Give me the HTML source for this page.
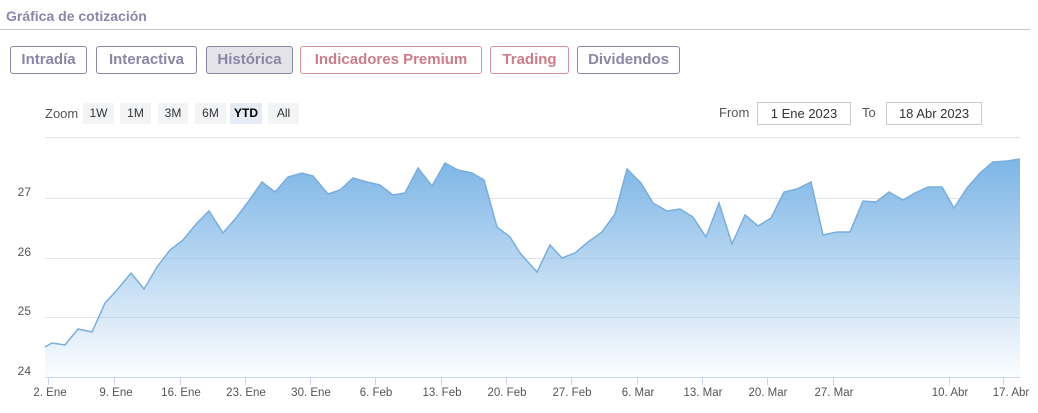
<!DOCTYPE html>
<html><head><meta charset="utf-8"><style>
body{margin:0;width:1038px;height:413px;background:#fff;font-family:"Liberation Sans",sans-serif;overflow:hidden;position:relative}
.t{position:absolute;left:6px;top:8px;font-size:14px;color:#8a86a6;font-weight:bold}
.hr{position:absolute;left:0;top:29px;width:1030px;height:1px;background:#c9c7d6}
.b{position:absolute;top:46px;height:26px;border:1px solid #8a86a6;border-radius:3px;font-size:15px;font-weight:bold;color:#8a86a6;text-align:center;line-height:26px;box-sizing:content-box}
.p{border-color:#d6949f;color:#cc7c8a}
.z{position:absolute;top:103px;height:21px;background:#f3f4f6;font-size:12px;color:#333;text-align:center;line-height:21px}
.lb{position:absolute;font-size:13px;color:#555}
.in{position:absolute;top:102px;height:21px;border:1px solid #ccc;font-size:13px;color:#333;text-align:center;line-height:21px}
</style></head><body>
<div class="t">Gráfica de cotización</div><div class="hr"></div>
<div class="b" style="left:10px;width:75px">Intradía</div>
<div class="b" style="left:96px;width:99px">Interactiva</div>
<div class="b" style="left:206px;width:85px;background:#e4e4e8">Histórica</div>
<div class="b p" style="left:300px;width:180px">Indicadores Premium</div>
<div class="b p" style="left:490px;width:77px">Trading</div>
<div class="b" style="left:577px;width:101px">Dividendos</div>
<div class="lb" style="left:45px;top:106px">Zoom</div>
<div class="z" style="left:83px;width:31px">1W</div>
<div class="z" style="left:120px;width:31px">1M</div>
<div class="z" style="left:158px;width:30px">3M</div>
<div class="z" style="left:195px;width:31px">6M</div>
<div class="z" style="left:230px;width:32px;background:#e6ebf5;font-weight:bold;color:#000">YTD</div>
<div class="z" style="left:268px;width:31px">All</div>
<div class="lb" style="left:719px;top:105px">From</div>
<div class="in" style="left:757px;width:92px">1 Ene 2023</div>
<div class="lb" style="left:862px;top:105px">To</div>
<div class="in" style="left:886px;width:94px">18 Abr 2023</div>
<svg width="1038" height="413" style="position:absolute;left:0;top:0" font-family="Liberation Sans, sans-serif">
<defs><linearGradient id="g" x1="0" y1="0" x2="0" y2="1"><stop offset="0" stop-color="#7cb5e6"/><stop offset="1" stop-color="#7cb5e6" stop-opacity="0.03"/></linearGradient></defs>
<g stroke="#e4e4e4" stroke-width="1">
<line x1="45" x2="1020" y1="137.5" y2="137.5"/><line x1="45" x2="1020" y1="198.5" y2="198.5"/><line x1="45" x2="1020" y1="258.5" y2="258.5"/><line x1="45" x2="1020" y1="317.5" y2="317.5"/></g>
<g font-size="12" fill="#555" text-anchor="end"><text x="31" y="196">27</text><text x="31" y="256">26</text><text x="31" y="315">25</text><text x="31" y="375">24</text></g>
<path fill="url(#g)" stroke="none" d="M45,347 L52,343 65,345 78,329 92,332 105,303 117,290 131,273 144,289 157,267 170,250 183,240 197,223 209,211 223,233 236,218 248,202 262,182 275,192 288,177 302,173 313,176 328,194 340,190 353,178 367,182 380,185 393,195 405,193 418,168 432,186 445,163 458,170 472,173 484,180 497,227 510,237 520,253 537,272 550,245 562,258 575,253 588,242 602,232 615,214 627,169 641,183 653,203 667,211 680,209 693,217 706,237 719,203 732,244 745,215 758,226 771,218 784,192 797,189 811,182 823,235 837,232 850,232 863,201 876,202 889,192 903,200 915,193 928,187 942,187 954,208 967,188 980,173 993,162 1007,161 1020,159 L1020,377 L45,377 Z"/>
<path fill="none" stroke="#7aaedd" stroke-width="1.5" d="M45,347 L52,343 65,345 78,329 92,332 105,303 117,290 131,273 144,289 157,267 170,250 183,240 197,223 209,211 223,233 236,218 248,202 262,182 275,192 288,177 302,173 313,176 328,194 340,190 353,178 367,182 380,185 393,195 405,193 418,168 432,186 445,163 458,170 472,173 484,180 497,227 510,237 520,253 537,272 550,245 562,258 575,253 588,242 602,232 615,214 627,169 641,183 653,203 667,211 680,209 693,217 706,237 719,203 732,244 745,215 758,226 771,218 784,192 797,189 811,182 823,235 837,232 850,232 863,201 876,202 889,192 903,200 915,193 928,187 942,187 954,208 967,188 980,173 993,162 1007,161 1020,159"/>
<line x1="45" x2="1020" y1="377.5" y2="377.5" stroke="#ccd6eb"/>
<g stroke="#ccd6eb"><line x1="48.5" x2="48.5" y1="377" y2="385"/><line x1="114.5" x2="114.5" y1="377" y2="385"/><line x1="180.5" x2="180.5" y1="377" y2="385"/><line x1="245.5" x2="245.5" y1="377" y2="385"/><line x1="310.5" x2="310.5" y1="377" y2="385"/><line x1="375.5" x2="375.5" y1="377" y2="385"/><line x1="441.5" x2="441.5" y1="377" y2="385"/><line x1="506.5" x2="506.5" y1="377" y2="385"/><line x1="571.5" x2="571.5" y1="377" y2="385"/><line x1="637.5" x2="637.5" y1="377" y2="385"/><line x1="702.5" x2="702.5" y1="377" y2="385"/><line x1="767.5" x2="767.5" y1="377" y2="385"/><line x1="833.5" x2="833.5" y1="377" y2="385"/><line x1="949.5" x2="949.5" y1="377" y2="385"/><line x1="1003.5" x2="1003.5" y1="377" y2="385"/></g>
<g font-size="11.5" fill="#555" text-anchor="middle"><text x="50" y="396">2. Ene</text><text x="116" y="396">9. Ene</text><text x="181" y="396">16. Ene</text><text x="246" y="396">23. Ene</text><text x="311" y="396">30. Ene</text><text x="376" y="396">6. Feb</text><text x="442" y="396">13. Feb</text><text x="507" y="396">20. Feb</text><text x="572" y="396">27. Feb</text><text x="638" y="396">6. Mar</text><text x="703" y="396">13. Mar</text><text x="768" y="396">20. Mar</text><text x="834" y="396">27. Mar</text><text x="950" y="396">10. Abr</text><text x="1011" y="396">17. Abr</text></g>
</svg>
</body></html>
